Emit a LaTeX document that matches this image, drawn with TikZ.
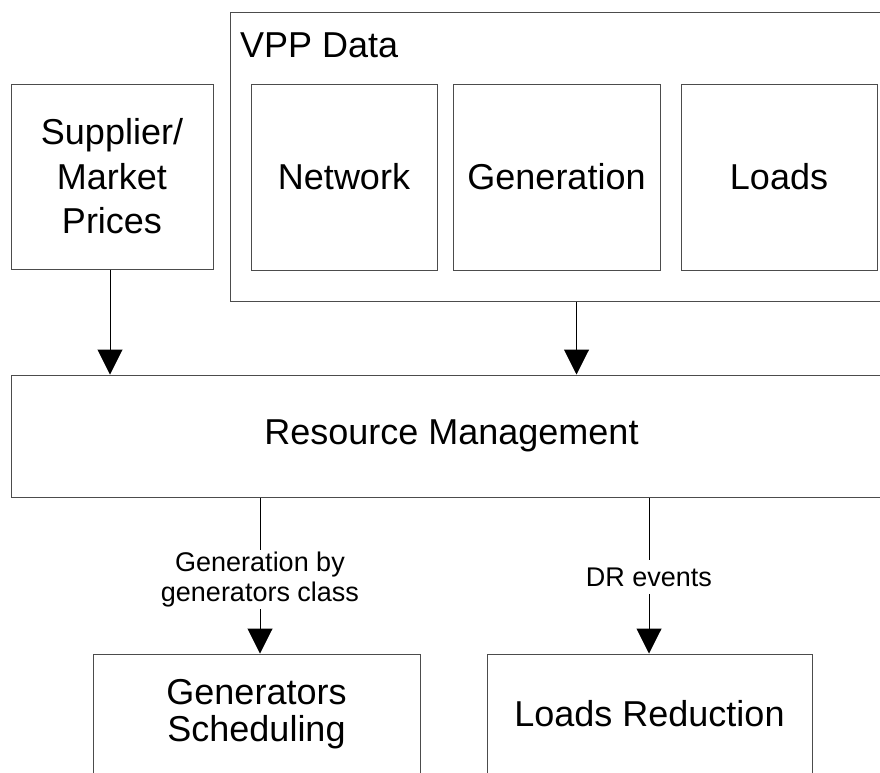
\documentclass[tikz,border=0pt]{standalone}
\usepackage{fontspec}
\setmainfont{Liberation Sans}
\usetikzlibrary{arrows.meta,calc}
\begin{document}
\begin{tikzpicture}[x=1pt,y=-1pt,
  box/.style={draw=black!70, line width=1pt, fill=white, inner sep=0pt, align=center,
              font=\fontsize{36}{44.5}\selectfont},
  lab/.style={fill=white, inner xsep=2pt, font=\fontsize{27}{30}\selectfont},
  flow/.style={draw=black, line width=1pt},
  arr/.style={flow, -{Triangle[width=25pt,length=25pt]}}]
\useasboundingbox (0,0) rectangle (880,772);
\clip (0,0) rectangle (880,772);

% input blocks
\node[box, minimum width=202, minimum height=185] (sup) at (112,176.5)
  {Supplier/\\Market\\Prices};
\node[box, minimum width=660, minimum height=289] (vpp) at (560,156.5) {};
\node[anchor=base west, inner sep=0pt, font=\fontsize{36}{40}\selectfont] (vlab) at (240,57) {VPP Data};
\node[box, minimum width=186, minimum height=186] (net) at (344,177) {Network};
\node[box, minimum width=207, minimum height=186] (gen) at (556.5,177) {Generation};
\node[box, minimum width=196, minimum height=186] (loads) at (779,177) {Loads};

% central block
\node[box, minimum width=881, minimum height=122] (rm) at (451.5,436) {Resource Management};

% output blocks
\node[box, minimum width=327, minimum height=120, font=\fontsize{36}{37}\selectfont] (gs) at (256.5,714)
  {Generators\\Scheduling};
\node[box, minimum width=325, minimum height=120] (lr) at (649.5,714) {Loads Reduction};

% inputs to resource management
\coordinate (s1) at ([xshift=-2pt]sup.south);
\draw[arr] (s1) -- (s1 |- rm.north);
\coordinate (v1) at ($(vpp.south west)+(347,0)$);
\draw[arr] (v1) -- (v1 |- rm.north);

% labelled outputs
\node[lab, align=center, anchor=north, inner ysep=2pt] (glab) at (260,549.5)
  {Generation by\\generators class};
\draw[flow] (glab.north |- rm.south) -- (glab.north);
\draw[arr] (glab.south) -- (glab.south |- gs.north);

\node[lab, anchor=base, inner ysep=7.5pt] (dlab) at (649,586) {DR events};
\draw[flow] (dlab.north |- rm.south) -- (dlab.north);
\draw[arr] (dlab.south) -- (dlab.south |- lr.north);
\end{tikzpicture}
\end{document}
